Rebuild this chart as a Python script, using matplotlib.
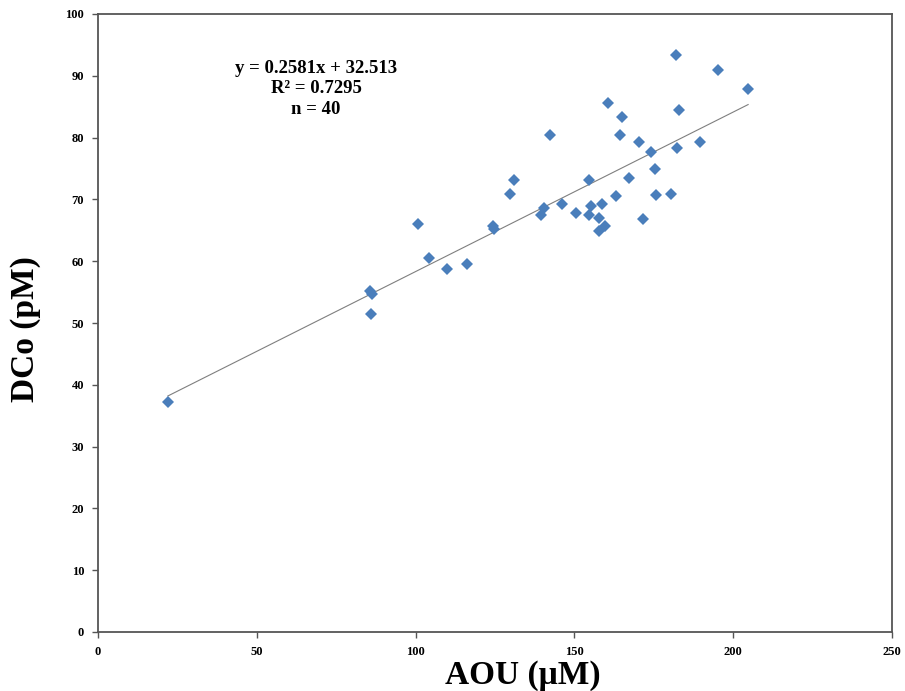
import matplotlib
matplotlib.use("Agg")
import matplotlib.pyplot as plt
import numpy as np

# Data
aou = [22.0, 85.6, 86.3, 85.9, 100.8, 104.2, 109.9, 116.2, 124.4, 124.7,
       129.7, 131.0, 139.5, 140.4, 142.3, 146.0, 150.5, 154.6, 154.6, 155.2,
       158.7, 157.7, 157.7, 159.6, 160.6, 163.1, 164.4, 165.0, 167.2, 170.3,
       171.6, 174.1, 175.4, 175.7, 180.4, 182.0, 182.3, 182.9, 189.4, 195.2,
       204.7]
dco = [37.2, 55.2, 54.7, 51.5, 66.0, 60.5, 58.7, 59.5, 65.7, 65.2,
       70.9, 73.1, 67.5, 68.6, 80.4, 69.3, 67.8, 73.1, 67.5, 68.9,
       69.3, 67.0, 64.9, 65.7, 85.6, 70.6, 80.4, 83.4, 73.5, 79.3,
       66.8, 77.7, 74.9, 70.7, 70.9, 93.4, 78.3, 84.5, 79.3, 90.9,
       87.9]
slope = 0.2581
intercept = 32.513
r2 = 0.7295
n_label = 40

x_ticks = [0, 50, 100, 150, 200, 250]
y_ticks = [0, 10, 20, 30, 40, 50, 60, 70, 80, 90, 100]

serif = ["Liberation Serif", "DejaVu Serif"]
plt.rcParams["font.family"] = serif

fig = plt.figure(figsize=(9.05, 6.91), dpi=100)
ax = fig.add_axes([98 / 905, 1 - 632 / 691, (892 - 98) / 905, (632 - 14) / 691])

xs = np.array([min(aou), max(aou)])
ax.plot(xs, slope * xs + intercept, color="#7f7f7f", lw=0.8, zorder=2)
ax.plot(aou, dco, linestyle="none", marker="D", ms=6.2, color="#4a7ebb",
        markeredgewidth=0, zorder=3)

ax.set_xlim(0, 250)
ax.set_ylim(0, 100)
ax.set_xticks(x_ticks)
ax.set_yticks(y_ticks)
ax.set_xticklabels([str(t) for t in x_ticks], fontsize=9, fontweight="bold")
ax.set_yticklabels([str(t) for t in y_ticks], fontsize=9, fontweight="bold")
ax.tick_params(axis="both", direction="out", length=4, width=1, color="#555555", pad=6)

for s in ax.spines.values():
    s.set_color("#555555")
    s.set_linewidth(1.3)

ax.set_xlabel("AOU (\u03bcM)", fontsize=24, fontweight="bold")
ax.xaxis.set_label_coords(0.535, -0.046, transform=ax.transAxes)
ax.xaxis.label.set_va("top")
ax.set_ylabel("DCo (pM)", fontsize=24, fontweight="bold")
ax.yaxis.set_label_coords(-0.072, 0.49, transform=ax.transAxes)

txt = (f"y = {slope}x + {intercept}\n"
       f"R\u00b2 = {r2}\n"
       f"n = {n_label}")
ax.text(0.2746, 0.926, txt, transform=ax.transAxes, ha="center", va="top",
        fontsize=13.5, fontweight="bold", linespacing=1.28)

fig.savefig("out.png", dpi=100)
